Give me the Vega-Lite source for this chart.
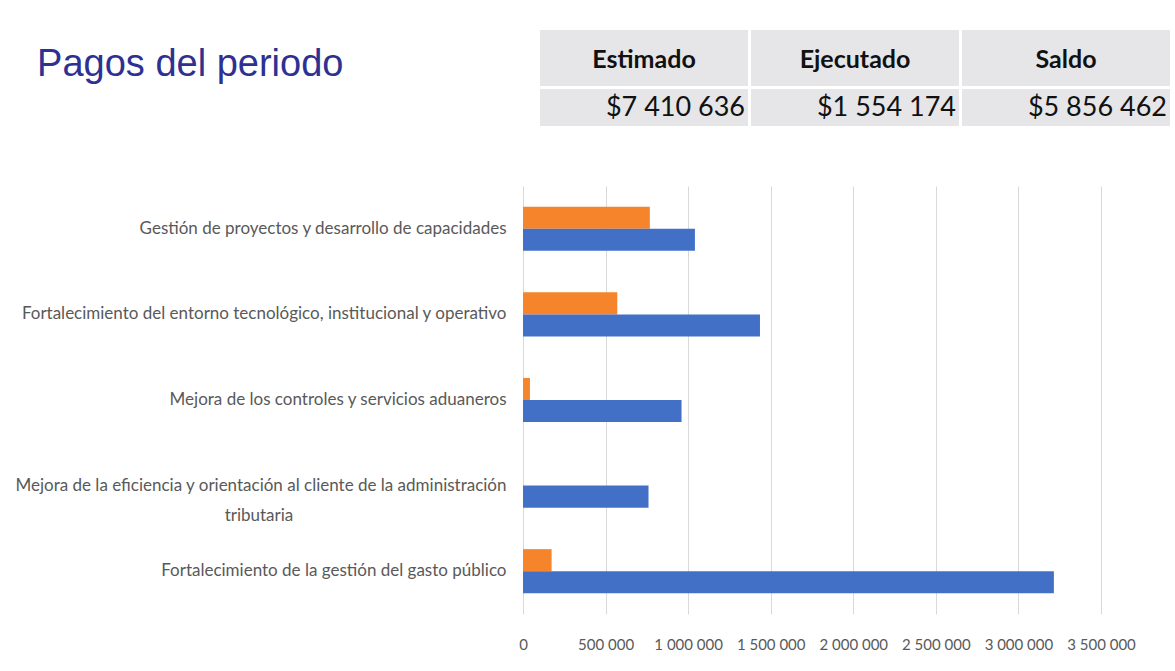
{
  "$schema": "https://vega.github.io/schema/vega-lite/v6.json",
  "padding": {"left": 14, "top": 30, "right": 0, "bottom": 0},
  "background": "white",
  "config": {
    "locale": {"number": {"decimal": ",", "thousands": " ", "grouping": [3], "currency": ["$", ""]}},
    "view": {"stroke": null}
  },
  "title": {
    "text": "Pagos del periodo", "anchor": "start", "frame": "bounds", "orient": "top",
    "offset": -84, "baseline": "alphabetic", "dx": 23,
    "font": "Liberation Sans", "fontSize": 38, "fontWeight": "normal", "color": "#2E3191"
  },
  "datasets": {
    "resumen": [
      {"concepto": "Estimado", "monto": 7410636},
      {"concepto": "Ejecutado", "monto": 1554174},
      {"concepto": "Saldo", "monto": 5856462}
    ],
    "pagos": [
      {"componente": "Gestión de proyectos y desarrollo de capacidades", "tipo": "Ejecutado", "monto": 768000},
      {"componente": "Gestión de proyectos y desarrollo de capacidades", "tipo": "Estimado", "monto": 1041000},
      {"componente": "Fortalecimiento del entorno tecnológico, institucional y operativo", "tipo": "Ejecutado", "monto": 571000},
      {"componente": "Fortalecimiento del entorno tecnológico, institucional y operativo", "tipo": "Estimado", "monto": 1435000},
      {"componente": "Mejora de los controles y servicios aduaneros", "tipo": "Ejecutado", "monto": 42000},
      {"componente": "Mejora de los controles y servicios aduaneros", "tipo": "Estimado", "monto": 960000},
      {"componente": "Mejora de la eficiencia y orientación al cliente de la administración tributaria", "tipo": "Ejecutado", "monto": 0},
      {"componente": "Mejora de la eficiencia y orientación al cliente de la administración tributaria", "tipo": "Estimado", "monto": 760000},
      {"componente": "Fortalecimiento de la gestión del gasto público", "tipo": "Ejecutado", "monto": 173174},
      {"componente": "Fortalecimiento de la gestión del gasto público", "tipo": "Estimado", "monto": 3214636}
    ]
  },
  "vconcat": [
    {
      "vconcat": [
        {
          "width": 647,
          "height": 56,
          "data": {"name": "resumen"},
          "encoding": {
            "x": {"field": "concepto", "type": "nominal", "sort": null, "scale": {"paddingInner": 0.0142, "paddingOuter": 0.0403, "align": 1}, "axis": null}
          },
          "layer": [
            {"mark": {"type": "rect", "color": "#e6e6e9"}},
            {"mark": {"type": "text", "font": "Lato", "fontWeight": "bold", "fontSize": 25, "color": "#111111", "dy": 2}, "encoding": {"text": {"field": "concepto"}}}
          ]
        },
        {
          "width": 647,
          "height": 37,
          "data": {"name": "resumen"},
          "encoding": {
            "x": {"field": "concepto", "type": "nominal", "sort": null, "scale": {"paddingInner": 0.0142, "paddingOuter": 0.0403, "align": 1}, "axis": null}
          },
          "layer": [
            {"mark": {"type": "rect", "color": "#e6e6e9"}},
            {"mark": {"type": "text", "font": "Lato", "fontSize": 27, "color": "#111111", "align": "right", "dx": -3}, "encoding": {"x": {"field": "concepto", "type": "nominal", "sort": null, "bandPosition": 1}, "text": {"field": "monto", "type": "quantitative", "format": "$,"}}}
          ]
        }
      ],
      "spacing": 3
    },
    {
      "width": 578,
      "height": 428,
      "data": {"name": "pagos"},
      "mark": {"type": "bar"},
      "encoding": {
        "y": {
          "field": "componente", "type": "nominal", "sort": null,
          "scale": {"paddingInner": 0.485, "paddingOuter": 0.2425},
          "axis": {
            "title": null, "ticks": false, "domain": false, "grid": false,
            "labelPadding": 17, "labelFont": "Lato", "labelFontSize": 17, "labelColor": "#595959",
            "labelLimit": 0, "labelLineHeight": 30,
            "labelExpr": "datum.value == 'Mejora de la eficiencia y orientación al cliente de la administración tributaria' ? ['Mejora de la eficiencia y orientación al cliente de la administración', pad('tributaria', 59, '\u00a0') + '\u200b'] : datum.value"
          }
        },
        "x": {
          "field": "monto", "type": "quantitative",
          "scale": {"domain": [0, 3500000], "nice": false},
          "axis": {
            "title": null, "values": [0, 500000, 1000000, 1500000, 2000000, 2500000, 3000000, 3500000],
            "format": ",.0f", "ticks": false, "domain": false, "grid": true, "gridColor": "#d9d9d9",
            "labelPadding": 23, "labelFont": "Lato", "labelFontSize": 15, "labelColor": "#595959",
            "labelFlush": false, "labelOverlap": false
          }
        },
        "yOffset": {"field": "tipo", "type": "nominal", "sort": ["Ejecutado", "Estimado"]},
        "color": {"field": "tipo", "type": "nominal", "scale": {"domain": ["Ejecutado", "Estimado"], "range": ["#F5842B", "#4170C6"]}, "legend": null}
      }
    }
  ],
  "spacing": 60
}
